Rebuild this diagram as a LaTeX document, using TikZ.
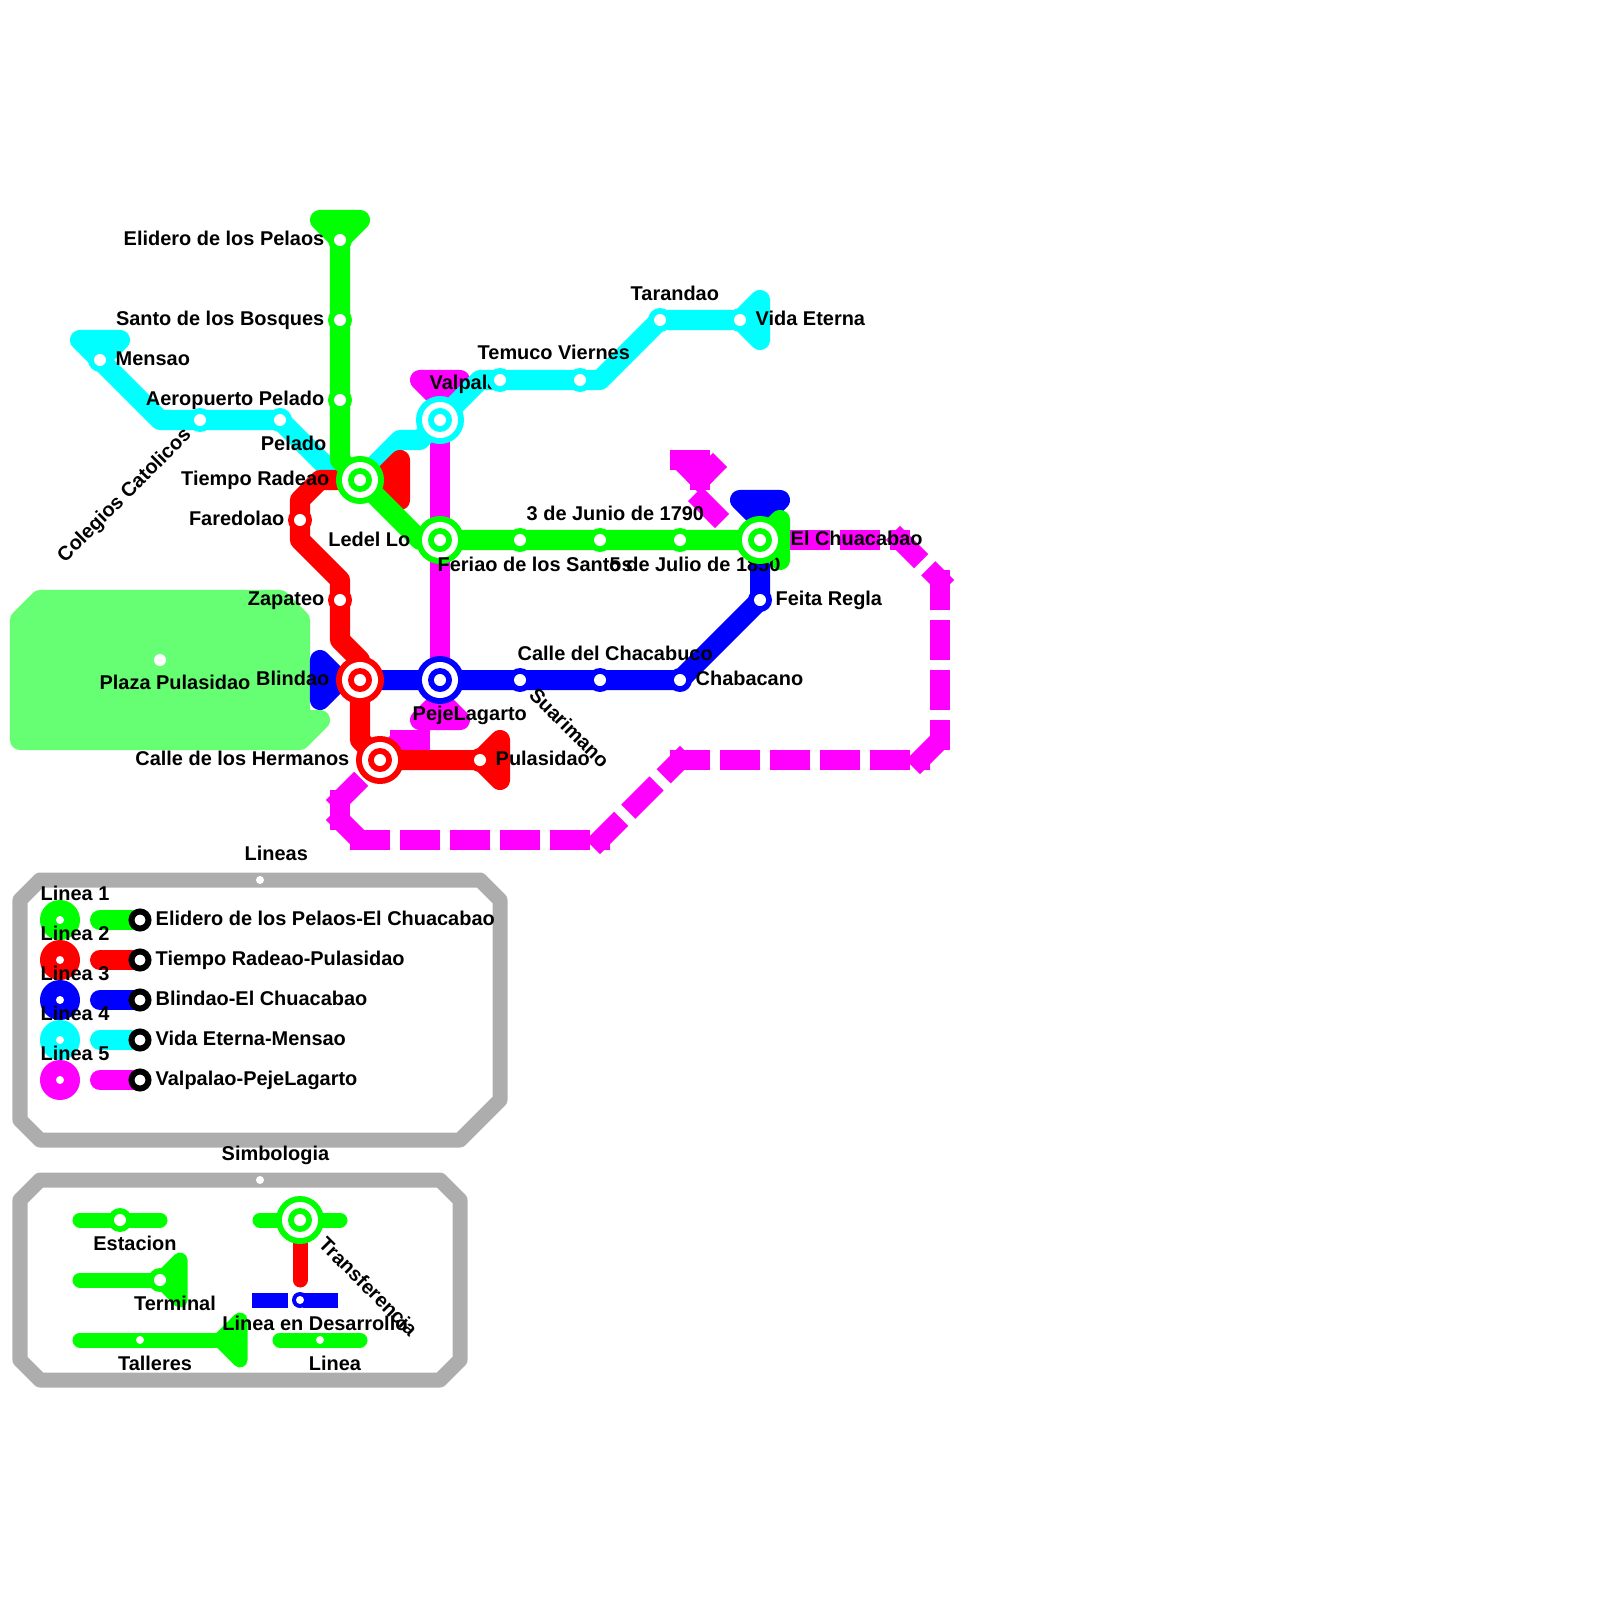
\documentclass[tikz,border=0pt]{standalone}
\usepackage{fontspec}
\setmainfont{Liberation Sans}[BoldFont={Liberation Sans Bold}]
\definecolor{lgreen}{RGB}{0,255,0}
\definecolor{lred}{RGB}{255,0,0}
\definecolor{lblue}{RGB}{0,0,255}
\definecolor{lcyan}{RGB}{0,255,255}
\definecolor{lmag}{RGB}{255,0,255}
\definecolor{parkgreen}{RGB}{102,255,115}
\definecolor{framegray}{RGB}{173,173,173}
\pgfdeclarelayer{magl}\pgfdeclarelayer{magt}\pgfdeclarelayer{cyanl}\pgfdeclarelayer{bluel}\pgfdeclarelayer{redl}\pgfdeclarelayer{greenl}\pgfdeclarelayer{park}\pgfdeclarelayer{texts}\pgfdeclarelayer{overtop}
\pgfsetlayers{park,magl,magt,cyanl,bluel,redl,greenl,texts,main,overtop}
\tikzset{
  metro/.style={line width=0.2cm,line cap=round,line join=round,#1},
  term/.style={line width=0.2cm,line join=round,draw=#1,fill=#1},
  devline/.style={line width=0.2cm,lmag,dash pattern=on 0.4cm off 0.1cm,shorten <=-0.1cm,shorten >=-0.1cm},
  stn/.style={circle,inner sep=0pt,minimum size=0.24cm,fill=#1,path picture={\fill[white] (path picture bounding box.center) circle (0.06cm);}},
  xfer/.style={circle,inner sep=0pt,minimum size=0.48cm,fill=#1,path picture={\fill[white] (path picture bounding box.center) circle (0.18cm);\fill[#1] (path picture bounding box.center) circle (0.12cm);\fill[white] (path picture bounding box.center) circle (0.06cm);}},
  dotn/.style={circle,inner sep=0pt,minimum size=0.08cm,fill=white},
  legdisc/.style={circle,inner sep=0pt,minimum size=0.40cm,fill=#1,path picture={\fill[white] (path picture bounding box.center) circle (0.04cm);}},
  legend end/.style={circle,inner sep=0pt,minimum size=0.17cm,draw=black,line width=0.06cm,fill=white},
  lab/.style={inner sep=0pt,text height=0.14cm,text depth=0.04cm,yshift=-0.02cm,font=\fontsize{5.67}{7}\selectfont\bfseries,text=black},
  frameline/.style={draw=framegray,line width=0.15cm,line join=round},
  small/.style={line width=0.15cm,line cap=round,line join=round,#1},
  smallterm/.style={line width=0.15cm,line join=round,draw=#1,fill=#1},
}
\begin{document}
\begin{tikzpicture}[x=0.01cm,y=-0.01cm]
\useasboundingbox (0,0) rectangle (1600,1600);
% stations
\node[stn=lgreen] (e1) at (340,240) {};
\node[stn=lgreen] (e2) at (340,320) {};
\node[stn=lgreen] (e3) at (340,400) {};
\node[xfer=lgreen] (tr) at (360,480) {};
\node[xfer=lgreen] (ll) at (440,540) {};
\node[stn=lgreen] (e4) at (520,540) {};
\node[stn=lgreen] (e5) at (600,540) {};
\node[stn=lgreen] (e6) at (680,540) {};
\node[xfer=lgreen] (ch) at (760,540) {};
\node[stn=lred] (r1) at (300,520) {};
\node[stn=lred] (r2) at (340,600) {};
\node[xfer=lred] (bl) at (360,680) {};
\node[xfer=lred] (hm) at (380,760) {};
\node[stn=lred] (r3) at (480,760) {};
\node[xfer=lblue] (pj) at (440,680) {};
\node[stn=lblue] (b1) at (520,680) {};
\node[stn=lblue] (b2) at (600,680) {};
\node[stn=lblue] (b3) at (680,680) {};
\node[stn=lblue] (b4) at (760,600) {};
\node[xfer=lcyan] (va) at (440,420) {};
\node[stn=lcyan] (c1) at (500,380) {};
\node[stn=lcyan] (c2) at (580,380) {};
\node[stn=lcyan] (c3) at (660,320) {};
\node[stn=lcyan] (c4) at (740,320) {};
\node[stn=lcyan] (c5) at (100,360) {};
\node[stn=lcyan] (c6) at (200,420) {};
\node[stn=lcyan] (c7) at (280,420) {};
\node[stn=parkgreen] (pz) at (160,660) {};
% bends
\foreach \n/\p in {g1/{340,460},g2/{420,540},
 t1/{320,220},t2/{360,220},t3/{780,520},t4/{780,560},
 r4/{320,480},r5/{300,500},r6/{300,540},r7/{340,580},r8/{340,640},r9/{360,660},r10/{360,740},
 t5/{400,460},t6/{400,500},t7/{380,480},t8/{500,740},t9/{500,780},
 t10/{320,660},t11/{320,700},t12/{340,680},t13/{740,500},t14/{780,500},t15/{760,520},
 t16/{760,300},t17/{760,340},t18/{80,340},t19/{120,340},
 b5/{760,600},c8/{600,380},c9/{480,380},c10/{420,440},c11/{400,440},c12/{320,460},c13/{340,480},c14/{160,420},
 t20/{420,380},t21/{460,380},t22/{440,400},t23/{420,720},t24/{460,720},t25/{440,700},
 d0/{420,740},d1/{400,740},d2/{340,800},d3/{340,820},d4/{360,840},d5/{600,840},d6/{680,760},d7/{920,760},d8/{940,740},d9/{940,580},d10/{900,540},
 d11/{680,460},d12/{720,460},d13/{700,480},d14/{700,460},d15/{722,521},d16/{695,494},
 p1/{40,600},p2/{280,600},p3/{300,620},p4/{300,720},p5/{320,720},p6/{300,740},p7/{20,740},p8/{20,620}}
 {\coordinate (\n) at (\p);}
\begin{pgfonlayer}{park}
\draw[line width=0.2cm,line join=round,draw=parkgreen,fill=parkgreen] (p1)--(p2)--(p3)--(p4)--(p5)--(p6)--(p7)--(p8)--cycle;
\end{pgfonlayer}
\begin{pgfonlayer}{magl}
\draw[metro=lmag] (va.center)--(pj.center);
\draw[term=lmag] (t20)--(t21)--(t22)--cycle;
\draw[term=lmag] (t23)--(t24)--(t25)--cycle;
\draw[devline,dash phase=0.1cm] (ch.center)--(d10);
\draw[devline] (d10)--(d9);
\draw[devline] (d9)--(d8);
\draw[devline] (d7)--(d8);
\draw[devline] (d6)--(d7);
\draw[devline] (d5)--(d6);
\draw[devline] (d4)--(d5);
\draw[devline] (d3)--(d4);
\draw[devline] (d2)--(d3);
\draw[devline] (d2)--(hm.center);
\draw[devline] (hm.center)--(d1);
\draw[devline] (d0)--(d1);
\draw[devline,shorten >=0pt] (d11)--(d12);
\draw[devline,shorten >=0pt] (d13)--(d12);
\draw[devline] (d13)--(d11);
\draw[devline] (d14)--(d13);
\draw[line width=0.2cm,lmag] (d15)--(d16);
\end{pgfonlayer}
\begin{pgfonlayer}{cyanl}
\draw[metro=lcyan] (c5.center)--(c14)--(c7.center)--(c12)--(c13)--(tr.center)--(c11)--(c10)--(va.center)--(c9)--(c8)--(c3.center)--(c4.center);
\draw[term=lcyan] (t16)--(t17)--(c4.center)--cycle;
\draw[term=lcyan] (t18)--(t19)--(c5.center)--cycle;
\end{pgfonlayer}
\begin{pgfonlayer}{bluel}
\draw[metro=lblue] (bl.center)--(b3.center)--(b4.center)--(ch.center);
\draw[term=lblue] (t10)--(t11)--(t12)--cycle;
\draw[term=lblue] (t13)--(t14)--(t15)--cycle;
\end{pgfonlayer}
\begin{pgfonlayer}{redl}
\draw[metro=lred] (tr.center)--(r4)--(r5)--(r6)--(r7)--(r8)--(r9)--(r10)--(hm.center)--(r3.center);
\draw[term=lred] (t5)--(t6)--(t7)--cycle;
\draw[term=lred] (t8)--(t9)--(r3.center)--cycle;
\end{pgfonlayer}
\begin{pgfonlayer}{greenl}
\draw[metro=lgreen] (e1.center)--(g1)--(tr.center)--(g2)--(ll.center)--(ch.center);
\draw[term=lgreen] (t1)--(t2)--(e1.center)--cycle;
\draw[term=lgreen] (t3)--(t4)--(ch.center)--cycle;
\end{pgfonlayer}
\begin{pgfonlayer}{texts}
\node[lab,anchor=west] (nValp) at (429,382) {Valpalao};
\node[lab,anchor=west] (nPeje) at (412,713) {PejeLagarto};
\node[lab,anchor=east] (nLede) at (411,539) {Ledel Lo};
\node[lab,anchor=east] (l1) at (325,238) {Elidero de los Pelaos};
\node[lab,anchor=east] (l2) at (325,318) {Santo de los Bosques};
\node[lab,anchor=east] (l3) at (325,398) {Aeropuerto Pelado};
\node[lab,anchor=west] (l4) at (115,358) {Mensao};
\node[lab,anchor=east] (l5) at (327,443) {Pelado};
\node[lab,rotate=45] (l6) at (125,494) {Colegios Catolicos};
\node[lab,anchor=east] (l7) at (330,478) {Tiempo Radeao};
\node[lab,anchor=east] (l8) at (285,518) {Faredolao};
\node[lab,anchor=east] (l9) at (325,598) {Zapateo};
\node[lab,anchor=east] (l10) at (330,678) {Blindao};
\node[lab] (l11) at (175,682) {Plaza Pulasidao};
\node[lab,anchor=east] (l12) at (350,758) {Calle de los Hermanos};
\node[lab,anchor=west] (l13) at (495,758) {Pulasidao};
\node[lab,rotate=-45] (l14) at (568,727) {Suarimano};
\node[lab,anchor=west] (l15) at (477,352) {Temuco Viernes};
\node[lab,anchor=west] (l16) at (630,293) {Tarandao};
\node[lab,anchor=west] (l17) at (755,318) {Vida Eterna};
\node[lab,anchor=west] (l18) at (526,513) {3 de Junio de 1790};
\node[lab,anchor=west] (l20) at (609,564) {5 de Julio de 1850};
\node[lab,anchor=west] (l21) at (790,538) {El Chuacabao};
\node[lab,anchor=west] (l22) at (775,598) {Feita Regla};
\node[lab,anchor=west] (l23) at (517,653) {Calle del Chacabuco};
\node[lab,anchor=west] (l24) at (695,678) {Chabacano};
\end{pgfonlayer}
\begin{pgfonlayer}{overtop}
\node[lab,anchor=west] (l19) at (437,564) {Feriao de los Santos};
\end{pgfonlayer}
% legend frame 1
\draw[frameline] (40,880)--(480,880)--(500,900)--(500,1100)--(460,1140)--(40,1140)--(20,1120)--(20,900)--cycle;
\node[dotn] (fd1) at (260,880) {};
\node[lab,anchor=west] (l25) at (244,853) {Lineas};
\foreach \i/\c/\t/\y in {1/lgreen/{Elidero de los Pelaos-El Chuacabao}/920,2/lred/{Tiempo Radeao-Pulasidao}/960,3/lblue/{Blindao-El Chuacabao}/1000,4/lcyan/{Vida Eterna-Mensao}/1040,5/lmag/{Valpalao-PejeLagarto}/1080}{
  \node[legdisc=\c] (ld\i) at (60,\y) {};
  \coordinate (ls\i) at (100,\y);
  \node[legend end] (le\i) at (140,\y) {};
  \begin{pgfonlayer}{greenl}
  \draw[metro=\c] (ls\i)--(le\i.center);
  \end{pgfonlayer}
  \node[lab,anchor=west] (ln\i) at (40,\y-27) {Linea \i};
  \node[lab,anchor=west] (lt\i) at (155,\y-2) {\t};
}
% legend frame 2
\draw[frameline] (40,1180)--(440,1180)--(460,1200)--(460,1360)--(440,1380)--(40,1380)--(20,1360)--(20,1200)--cycle;
\node[dotn] (fd2) at (260,1180) {};
\node[lab,anchor=west] (l26) at (221,1153) {Simbologia};
\coordinate (s1a) at (80,1220); \coordinate (s1b) at (160,1220);
\draw[small=lgreen] (s1a)--(s1b);
\node[stn=lgreen] (s1) at (120,1220) {};
\node[lab] (s1t) at (135,1243) {Estacion};
\coordinate (s2a) at (80,1280); \coordinate (s2b) at (180,1260); \coordinate (s2c) at (180,1300);
\node[stn=lgreen] (s2) at (160,1280) {};
\begin{pgfonlayer}{greenl}
\draw[small=lgreen] (s2a)--(s2.center);
\draw[smallterm=lgreen] (s2b)--(s2c)--(s2.center)--cycle;
\end{pgfonlayer}
\node[lab] (s2t) at (175,1303) {Terminal};
\coordinate (s3a) at (80,1340); \coordinate (s3b) at (220,1340); \coordinate (s3c) at (240,1320); \coordinate (s3d) at (240,1360);
\draw[small=lgreen] (s3a)--(s3b);
\draw[smallterm=lgreen] (s3c)--(s3d)--(s3b)--cycle;
\node[dotn] (s3) at (140,1340) {};
\node[lab] (s3t) at (155,1363) {Talleres};
\coordinate (s4a) at (280,1340); \coordinate (s4b) at (360,1340);
\draw[small=lgreen] (s4a)--(s4b);
\node[dotn] (s4) at (320,1340) {};
\node[lab] (s4t) at (335,1363) {Linea};
\coordinate (s5a) at (260,1220); \coordinate (s5b) at (340,1220); \coordinate (s5c) at (300,1280);
\draw[small=lgreen] (s5a)--(s5b);
\node[xfer=lgreen] (s5) at (300,1220) {};
\begin{pgfonlayer}{greenl}
\draw[small=lred] (s5.center)--(s5c);
\end{pgfonlayer}
\node[lab,rotate=-45] (s5t) at (367,1286) {Transferencia};
\coordinate (s6a) at (260,1300); \coordinate (s6b) at (340,1300);
\draw[line width=0.15cm,lblue,dash pattern=on 0.35cm off 0.15cm,shorten <=-0.075cm,shorten >=-0.075cm] (s6a)--(s6b);
\node[circle,inner sep=0pt,minimum size=0.16cm,fill=lblue] (s6h) at (300,1300) {};
\node[dotn] (s6) at (300,1300) {};
\node[lab] (s6t) at (315,1323) {Linea en Desarrollo};
\end{tikzpicture}
\end{document}
